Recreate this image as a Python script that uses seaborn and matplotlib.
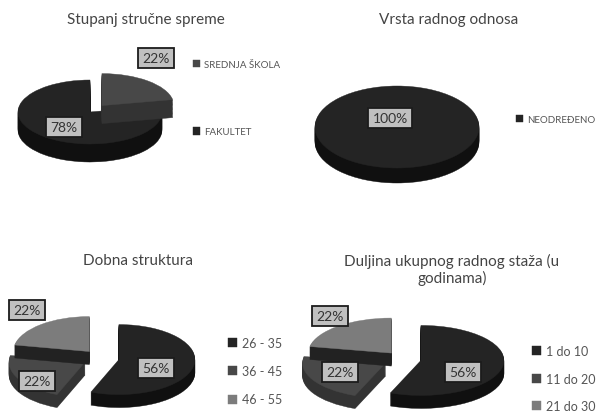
import numpy as np
import seaborn as sns
import matplotlib.pyplot as plt

# Data
titles = ['Stupanj stručne spreme', 'Vrsta radnog odnosa', 'Dobna struktura',
          'Duljina ukupnog radnog staža (u\ngodinama)']
spreme_labels = ['SREDNJA ŠKOLA', 'FAKULTET']
spreme_values = [22, 78]
odnos_labels = ['NEODREĐENO']
odnos_values = [100]
dob_labels = ['26 - 35', '36 - 45', '46 - 55']
dob_values = [56, 22, 22]
staz_labels = ['1 do 10', '11 do 20', '21 do 30']
staz_values = [56, 22, 22]

W, H = 597, 414

sns.set_theme(style='white')
plt.rcParams['font.family'] = ['Lato', 'DejaVu Sans']

fig = plt.figure(figsize=(W / 100, H / 100), dpi=100)
fig.patch.set_facecolor('white')


def fx(x):
    return x / W


def fy(y):
    return 1 - y / H


def pie3d(values, labels, colors, sides, cx, cy, rx, ry, depth, explode, boxes, leg_x, leg_y, leg_size, leg_space):
    # axes 3 radii wide, squashed so the pie looks tilted
    ax = fig.add_axes([fx(cx - 1.6 * rx), fy(cy + 1.6 * ry), 3.2 * rx / W, 3.2 * ry / H])
    ax.patch.set_alpha(0)
    n = 14
    # slices lying further back go on top, like in the original
    mids = (np.cumsum(values) - np.array(values) / 2) / 100 * 2 * np.pi
    order = np.argsort(np.argsort(np.cos(mids)))
    for k in range(n, -1, -1):
        cols = colors if k == 0 else sides
        wedges, _ = ax.pie(values, colors=cols, startangle=90, counterclock=False, explode=explode,
                           center=(0, -k * (depth / ry) / n), radius=1,
                           wedgeprops=dict(linewidth=0.3))
        for i, w in enumerate(wedges):
            w.set_edgecolor(cols[i])
            w.set_zorder(order[i] * 10 + (n - k) / n)
    ax.set_aspect('auto')
    ax.set_xlim(-1.6, 1.6)
    ax.set_ylim(-1.6, 1.6)
    ax.axis('off')

    for v, (bx, by) in zip(values, boxes):
        fig.text(fx(bx), fy(by), f'{v}%', ha='center', va='center', fontsize=10, color='#333333',
                 bbox=dict(boxstyle='square,pad=0.3', facecolor='#c0c0c0', edgecolor='#1c1c1c', linewidth=1.3))

    ax.legend(wedges, labels, loc='upper left', bbox_to_anchor=(fx(leg_x), fy(leg_y)), bbox_transform=fig.transFigure,
              frameon=False, fontsize=leg_size, labelspacing=leg_space, handlelength=0.75, handleheight=0.75,
              handletextpad=0.4, borderpad=0, borderaxespad=0, labelcolor='#555555')


dark, mid, light = '#242424', '#484848', '#7c7c7c'
dark_s, mid_s, light_s = '#101010', '#333333', '#222222'

pie3d(spreme_values, spreme_labels, [mid, dark], [mid_s, dark_s],
      90, 113, 72, 32, 18, [0.26, 0],
      [(156, 59), (64, 128)], 193, 61, 7, 6)
pie3d(odnos_values, odnos_labels, [dark], [dark_s],
      397, 128, 82, 41, 15, [0],
      [(390, 119)], 516, 116, 7, 1)
pie3d(dob_values, dob_labels, [dark, mid, light], [dark_s, mid_s, light_s],
      101, 359, 76, 35, 13, [0.24, 0.24, 0.24],
      [(156, 369), (37, 382), (27, 311)], 228, 338, 9, 1.3)
pie3d(staz_values, staz_labels, [dark, mid, light], [dark_s, mid_s, light_s],
      403, 360, 83, 35, 13, [0.22, 0.24, 0.22],
      [(463, 373), (340, 373), (330, 317)], 532, 346, 9, 1.25)

title_pos = [(146, 20), (449, 20), (138, 261), (452, 270)]
for t, (tx, ty) in zip(titles, title_pos):
    fig.text(fx(tx), fy(ty), t, ha='center', va='center', fontsize=11, color='#444444', linespacing=1.1)

plt.savefig('out.png', dpi=100)
